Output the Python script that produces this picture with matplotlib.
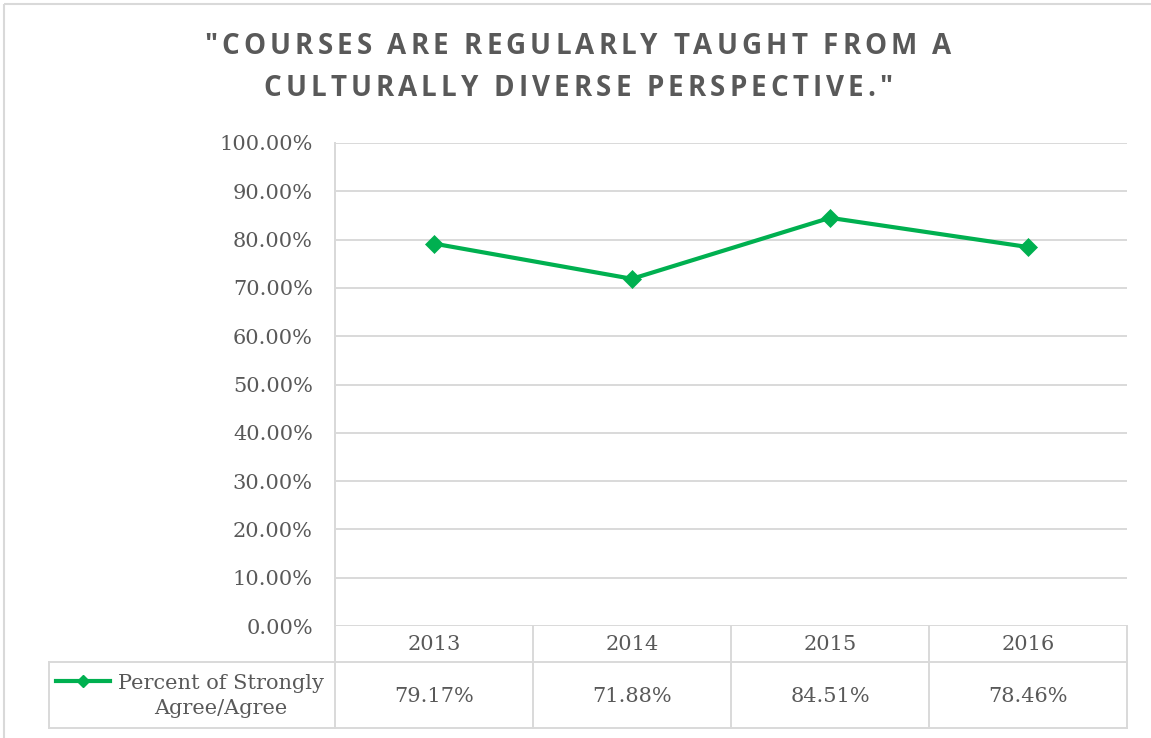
import matplotlib
matplotlib.use("Agg")
from matplotlib import pyplot as plt
from matplotlib.lines import Line2D
from matplotlib.patches import Rectangle
from matplotlib.transforms import Affine2D, blended_transform_factory
from matplotlib.ticker import FuncFormatter, MultipleLocator


years = ["2013", "2014", "2015", "2016"]
percent_agree = [79.17, 71.88, 84.51, 78.46]
series_label = "Percent of Strongly\nAgree/Agree"
title_lines = ['"COURSES ARE REGULARLY TAUGHT FROM A',
               'CULTURALLY DIVERSE PERSPECTIVE."']

W, H = 1151, 738
GREEN = "#00B050"
GRID = "#D9D9D9"
TEXT = "#595959"
SERIF = "DejaVu Serif"
FS = 15

fig = plt.figure(figsize=(W / 100, H / 100), dpi=100)
# pixel coordinates, origin at top-left
pix = Affine2D().scale(1 / W, -1 / H).translate(0, 1) + fig.transFigure

# outer chart frame (only left/top edge visible in the crop)
fig.patches.append(Rectangle((4, 4), W + 20, H + 20, transform=pix,
                             fill=False, edgecolor=GRID, lw=1.5))

left, right, top, bottom = 335, 1127, 143, 626
ax = fig.add_axes([left / W, 1 - bottom / H, (right - left) / W, (bottom - top) / H])

x = range(len(years))
ax.plot(x, [v / 100 for v in percent_agree], color=GREEN, lw=3,
        marker="D", markersize=9.5, markeredgewidth=0.5, zorder=3)

ax.set_xlim(-0.5, len(years) - 0.5)
ax.set_ylim(0, 1)
ax.yaxis.set_major_locator(MultipleLocator(0.1))
ax.yaxis.set_major_formatter(FuncFormatter(lambda v, p: f"{v * 100:.2f}%"))
ax.grid(axis="y", color=GRID, lw=1.4)
ax.set_axisbelow(True)
ax.set_xticks([])
ax.tick_params(axis="y", length=0, pad=16, labelsize=FS, labelcolor=TEXT)
for lbl in ax.get_yticklabels():
    lbl.set_family(SERIF)
for s in ["top", "right", "bottom"]:
    ax.spines[s].set_visible(False)
ax.spines["left"].set_color(GRID)
ax.spines["left"].set_linewidth(1.4)

# data table below the axis
tx = blended_transform_factory(ax.transData, pix)
row_top, row_mid, row_bot = 626, 662, 728
edges = [i - 0.5 for i in range(len(years) + 1)]
for e in edges:
    y0 = top if e == edges[0] else row_top
    fig.add_artist(Line2D([e, e], [y0, row_bot], transform=tx, color=GRID, lw=1.4))
for yy in (row_mid, row_bot):
    fig.add_artist(Line2D([49, right], [yy, yy], transform=pix, color=GRID, lw=1.4))
fig.add_artist(Line2D([49, 49], [row_mid, row_bot], transform=pix, color=GRID, lw=1.4))

for i, (yr, v) in enumerate(zip(years, percent_agree)):
    fig.text(i, (row_top + row_mid) / 2 + 1, yr, transform=tx, ha="center", va="center",
             fontsize=FS, family=SERIF, color=TEXT)
    fig.text(i, (row_mid + row_bot) / 2 + 1, f"{v:.2f}%", transform=tx, ha="center",
             va="center", fontsize=FS, family=SERIF, color=TEXT)

# legend key inside the table
fig.add_artist(Line2D([56, 110], [681, 681], transform=pix, color=GREEN, lw=3))
fig.add_artist(Line2D([83], [681], transform=pix, color=GREEN, marker="D",
                      markersize=6.5, lw=0))
fig.text(221, 696, series_label, transform=pix, ha="center", va="center",
         multialignment="center", fontsize=FS, family=SERIF, color=TEXT,
         linespacing=1.45)


# title with letter spacing
def spaced_line(text, cx, cy, target_w=None, spacing=None, **kw):
    r = fig.canvas.get_renderer()

    def width(s):
        t = fig.text(0, 0, s, **kw)
        w = t.get_window_extent(r).width
        t.remove()
        return w

    bar = width("||")
    adv = [width("|" + c + "|") - bar for c in text]
    natural = sum(adv)
    if spacing is None:
        spacing = (target_w - natural) / (len(text) - 1)
    total = natural + spacing * (len(text) - 1)
    xpos = cx - total / 2
    for c, a in zip(text, adv):
        fig.text(xpos, cy, c, transform=pix, ha="left", va="center", **kw)
        xpos += a + spacing
    return spacing


tkw = dict(fontsize=20, family="Open Sans", fontweight="bold", color=TEXT)
sp = spaced_line(title_lines[0], 578, 47, target_w=747, **tkw)
spaced_line(title_lines[1], 578, 88, spacing=sp, **tkw)

fig.savefig("out.png", dpi=100)
